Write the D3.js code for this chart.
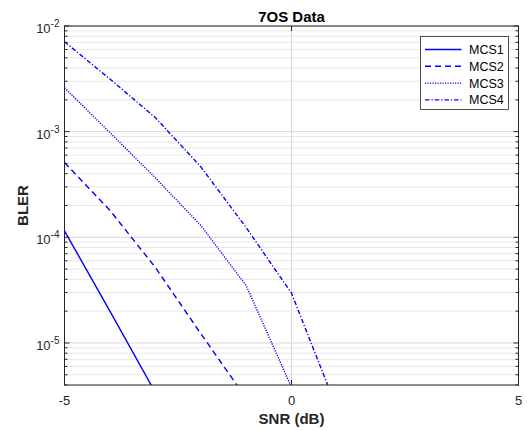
<!DOCTYPE html>
<html>
<head>
<meta charset="utf-8">
<script src="https://cdn.jsdelivr.net/npm/d3@7"></script>
<style>
  html, body { margin: 0; padding: 0; background: #fff; }
  svg { display: block; font-family: "Liberation Sans", Arial, Helvetica, sans-serif; }
</style>
</head>
<body>
<svg id="chart" width="527" height="430"></svg>
<script>
// SNR sample points (dB)
const snr = [-5, -4, -3, -2, -1, 0, 1];

// Block error rate per modulation/coding scheme (null = not simulated)
const mcs1 = [1.15e-4, 2.0e-5, 3.4e-6, null, null, null, null];
const mcs2 = [5.1e-4, 1.8e-4, 5.2e-5, 1.23e-5, 3.0e-6, null, null];
const mcs3 = [2.6e-3, 9.8e-4, 3.66e-4, 1.3e-4, 3.5e-5, 3.8e-6, null];
const mcs4 = [7.1e-3, 3.15e-3, 1.36e-3, 4.66e-4, 1.24e-4, 2.96e-5, 2.4e-6];

const seriesNames = ["MCS1", "MCS2", "MCS3", "MCS4"];
const seriesValues = [mcs1, mcs2, mcs3, mcs4];
const dashStyles = ["none", "6,4", "1.2,1.3", "4.5,2,1.2,2"];

const xTicks = [-5, 0, 5];
const yMajorExps = [-5, -4, -3, -2];

const margin = { left: 64.5, right: 8.5, top: 26, bottom: 45 };
const W = 527, H = 430;
const svg = d3.select("#chart");

const x = d3.scaleLinear().domain([-5, 5]).range([margin.left, W - margin.right]);
const y = d3.scaleLog().domain([4e-6, 1e-2]).range([H - margin.bottom, margin.top]);

const x0 = x.range()[0], x1 = x.range()[1];
const yb = y.range()[0], yt = y.range()[1];
const axisColor = "#262626";

// minor and major tick values for the log axis
const yMinor = [];
for (let e = -6; e <= -3; e++) {
  for (let m = 2; m <= 9; m++) {
    const v = m * Math.pow(10, e);
    if (v >= 4e-6 && v <= 1e-2) yMinor.push(v);
  }
}
const yMajor = yMajorExps.map(e => Math.pow(10, e));

// grid
const grid = svg.append("g");
grid.selectAll("line.minor").data(yMinor).join("line")
  .attr("x1", x0).attr("x2", x1)
  .attr("y1", d => y(d)).attr("y2", d => y(d))
  .attr("stroke", "#d2d2d2").attr("stroke-width", 1)
  .attr("stroke-dasharray", "1,1");
grid.selectAll("line.major").data(yMajor).join("line")
  .attr("x1", x0).attr("x2", x1)
  .attr("y1", d => y(d)).attr("y2", d => y(d))
  .attr("stroke", "#d8d8d8").attr("stroke-width", 1);
grid.selectAll("line.xg").data(xTicks).join("line")
  .attr("x1", d => x(d)).attr("x2", d => x(d))
  .attr("y1", yt).attr("y2", yb)
  .attr("stroke", "#d8d8d8").attr("stroke-width", 1);

// data lines
svg.append("clipPath").attr("id", "plotclip")
  .append("rect").attr("x", x0).attr("y", yt).attr("width", x1 - x0).attr("height", yb - yt);

const line = d3.line()
  .defined(d => d[1] != null)
  .x(d => x(d[0]))
  .y(d => y(d[1]));

const lines = svg.append("g").attr("clip-path", "url(#plotclip)");
seriesValues.forEach((vals, i) => {
  lines.append("path")
    .datum(snr.map((s, j) => [s, vals[j]]))
    .attr("d", line)
    .attr("fill", "none")
    .attr("stroke", "#0000ff")
    .attr("stroke-width", 1.4)
    .attr("stroke-dasharray", dashStyles[i]);
});

// axes box
const box = svg.append("g").attr("stroke", axisColor).attr("fill", "none");
box.append("rect").attr("x", x0).attr("y", yt).attr("width", x1 - x0).attr("height", yb - yt)
  .attr("stroke-width", 1);

// y ticks (left and right, inward)
const tickG = svg.append("g").attr("stroke", axisColor).attr("stroke-width", 1);
[[x0, 1], [x1, -1]].forEach(([xx, dir]) => {
  tickG.selectAll(null).data(yMinor).join("line")
    .attr("x1", xx).attr("x2", xx + dir * 3)
    .attr("y1", d => y(d)).attr("y2", d => y(d));
  tickG.selectAll(null).data(yMajor).join("line")
    .attr("x1", xx).attr("x2", xx + dir * 5)
    .attr("y1", d => y(d)).attr("y2", d => y(d));
});
// x ticks (bottom and top, inward)
[[yb, -1], [yt, 1]].forEach(([yy, dir]) => {
  tickG.selectAll(null).data(xTicks).join("line")
    .attr("x1", d => x(d)).attr("x2", d => x(d))
    .attr("y1", yy).attr("y2", yy + dir * 5);
});

// y tick labels: 10 with superscript exponent
const yl = svg.append("g").attr("fill", axisColor).attr("font-size", 13);
yMajorExps.forEach(e => {
  const t = yl.append("text")
    .attr("x", x0 - 5).attr("y", y(Math.pow(10, e)) + 7)
    .attr("text-anchor", "end");
  t.append("tspan").text("10");
  t.append("tspan").attr("dy", -6).attr("font-size", 10).text(String(e));
});

// x tick labels
svg.append("g").attr("fill", axisColor).attr("font-size", 13)
  .selectAll("text").data(xTicks).join("text")
  .attr("x", d => x(d)).attr("y", yb + 20)
  .attr("text-anchor", "middle")
  .text(d => d);

// axis titles
svg.append("text")
  .attr("x", (x0 + x1) / 2).attr("y", yb + 39)
  .attr("text-anchor", "middle").attr("font-weight", "bold").attr("font-size", 15)
  .attr("fill", axisColor).text("SNR (dB)");
svg.append("text")
  .attr("transform", `translate(28,${(yt + yb) / 2}) rotate(-90)`)
  .attr("text-anchor", "middle").attr("font-weight", "bold").attr("font-size", 15)
  .attr("fill", axisColor).text("BLER");
svg.append("text")
  .attr("x", (x0 + x1) / 2).attr("y", yt - 4.5)
  .attr("text-anchor", "middle").attr("font-weight", "bold").attr("font-size", 15)
  .attr("fill", "#000").text("7OS Data");

// legend
const lg = svg.append("g");
const lgX = 420.5, lgY = 36.5, lgW = 88, lgH = 73;
lg.append("rect").attr("x", lgX).attr("y", lgY).attr("width", lgW).attr("height", lgH)
  .attr("fill", "#fff").attr("stroke", "#262626").attr("stroke-width", 0.8);
seriesNames.forEach((name, i) => {
  const cy = lgY + 13 + i * 16.8;
  lg.append("line")
    .attr("x1", lgX + 4.5).attr("x2", lgX + 41)
    .attr("y1", cy).attr("y2", cy)
    .attr("stroke", "#0000ff").attr("stroke-width", 1.4)
    .attr("stroke-dasharray", dashStyles[i]);
  lg.append("text")
    .attr("x", lgX + 48.5).attr("y", cy + 4.5)
    .attr("font-size", 12.5).attr("fill", "#000")
    .text(name);
});
</script>
</body>
</html>
